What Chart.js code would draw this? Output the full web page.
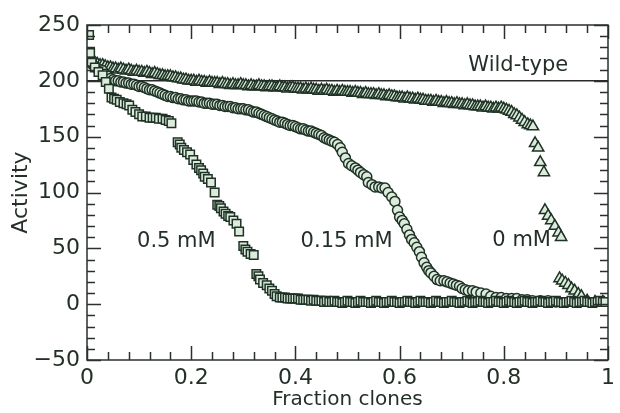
<!DOCTYPE html>
<html>
<head>
<meta charset="utf-8">
<script src="https://cdn.jsdelivr.net/npm/chart.js@4.4.0/dist/chart.umd.min.js"></script>
<style>
  body { margin: 0; background: #fff; }
  #wrap { width: 620px; height: 413px; }
</style>
</head>
<body>
<div id="wrap"><canvas id="myChart"></canvas></div>
<script>
// 0.5 mM (squares)
var sqX = [0.004, 0.006, 0.009, 0.015, 0.022, 0.03, 0.036, 0.042, 0.047, 0.052, 0.057, 0.063, 0.07, 0.076, 0.081, 0.087, 0.093, 0.1, 0.106, 0.113, 0.12, 0.126, 0.132, 0.138, 0.145, 0.151, 0.157, 0.162,
  0.174, 0.178, 0.181, 0.186, 0.192, 0.198, 0.204, 0.21, 0.215, 0.219, 0.223, 0.226, 0.232, 0.238, 0.245, 0.25, 0.254, 0.257, 0.262, 0.266, 0.271, 0.275, 0.281, 0.287, 0.292,
  0.3, 0.304, 0.308, 0.314, 0.32, 0.325, 0.329, 0.332, 0.338, 0.345, 0.35, 0.355, 0.36, 0.364,
  0.37, 0.375, 0.38, 0.385, 0.39, 0.395, 0.40, 0.405, 0.41, 0.415,
  0.42, 0.425, 0.43, 0.435, 0.44, 0.445, 0.45, 0.455, 0.46, 0.465,
  0.47, 0.475, 0.48, 0.485, 0.49, 0.495, 0.50, 0.505, 0.51, 0.515,
  0.52, 0.525, 0.53, 0.535, 0.54, 0.545, 0.55, 0.555, 0.56, 0.565,
  0.57, 0.575, 0.58, 0.585, 0.59, 0.595, 0.60, 0.605, 0.61, 0.615,
  0.62, 0.625, 0.63, 0.635, 0.64, 0.645, 0.65, 0.655, 0.66, 0.665,
  0.67, 0.675, 0.68, 0.685, 0.69, 0.695, 0.70, 0.705, 0.71, 0.715,
  0.72, 0.725, 0.73, 0.735, 0.74, 0.745, 0.75, 0.755, 0.76, 0.765,
  0.77, 0.775, 0.78, 0.785, 0.79, 0.795, 0.80, 0.805, 0.81, 0.815,
  0.82, 0.825, 0.83, 0.835, 0.84, 0.845, 0.85, 0.855, 0.86, 0.865,
  0.87, 0.875, 0.88, 0.885, 0.89, 0.895, 0.90, 0.905, 0.91, 0.915,
  0.92, 0.925, 0.93, 0.935, 0.94, 0.945, 0.95, 0.955, 0.96, 0.965,
  0.97, 0.975, 0.98, 0.985, 0.99, 0.995, 1.0]
var sqY = [241, 225, 217, 212, 208, 205, 199, 193, 185, 184, 183, 181, 180, 179, 178, 174, 172, 170, 168, 168, 167, 167, 167, 166, 166, 165, 164, 162,
  145, 143, 140, 138, 136, 134, 129, 125, 122, 120, 117, 114, 112, 109, 100, 89, 88, 86, 83, 81, 79, 78, 75, 72, 65,
  52, 49, 47, 45, 44, 27, 25, 22, 19, 17, 14, 12, 9, 7,
  6, 6, 6, 5, 5, 5, 5, 5, 4, 4,
  4, 4, 3, 4, 3, 3, 3, 2, 3, 2,
  2, 3, 2, 2, 1, 2, 3, 2, 2, 1,
  2, 3, 2, 2, 2, 1, 2, 3, 2, 2,
  1, 2, 2, 3, 2, 2, 1, 2, 2, 3,
  2, 2, 1, 2, 3, 2, 2, 2, 1, 2,
  3, 2, 2, 1, 2, 2, 3, 2, 2, 1,
  2, 2, 3, 2, 1, 2, 2, 3, 2, 2,
  1, 2, 2, 3, 2, 2, 1, 2, 3, 2,
  2, 1, 2, 2, 3, 2, 2, 1, 2, 2,
  3, 2, 2, 1, 2, 2, 3, 2, 2, 1,
  2, 2, 3, 2, 1, 2, 2, 3, 2, 2,
  1, 2, 2, 3, 2, 2]

// 0.15 mM (circles)
var circX = [0.005, 0.01, 0.015, 0.02, 0.025, 0.03, 0.035, 0.04, 0.045, 0.05,
  0.055, 0.06, 0.065, 0.07, 0.075, 0.08, 0.085, 0.09, 0.095, 0.10,
  0.105, 0.11, 0.115, 0.12, 0.125, 0.13, 0.135, 0.14, 0.145, 0.15,
  0.155, 0.16, 0.165, 0.17, 0.175, 0.18, 0.185, 0.19, 0.195, 0.20,
  0.205, 0.21, 0.215, 0.22, 0.225, 0.23, 0.235, 0.24, 0.245, 0.25,
  0.255, 0.26, 0.265, 0.27, 0.275, 0.28, 0.285, 0.29, 0.295, 0.30,
  0.305, 0.31, 0.315, 0.32, 0.325, 0.33, 0.335, 0.34, 0.345, 0.35,
  0.355, 0.36, 0.365, 0.37, 0.375, 0.38, 0.385, 0.39, 0.395, 0.40,
  0.405, 0.41, 0.415, 0.42, 0.425, 0.43, 0.435, 0.44, 0.445, 0.45,
  0.455, 0.46, 0.465, 0.47, 0.475,
  0.481, 0.486, 0.49, 0.496, 0.502, 0.508, 0.515, 0.52, 0.525,
  0.531, 0.537, 0.54, 0.547, 0.553, 0.56, 0.566, 0.572, 0.578, 0.585, 0.591, 0.596, 0.6, 0.605, 0.609, 0.614, 0.619, 0.623, 0.628, 0.633, 0.638, 0.642, 0.647, 0.652,
  0.656, 0.66, 0.666, 0.672, 0.678, 0.685, 0.691, 0.697, 0.703, 0.709, 0.715, 0.72, 0.726, 0.732, 0.74, 0.747, 0.756, 0.766, 0.775, 0.785, 0.795, 0.805, 0.815, 0.825,
  0.835, 0.845, 0.855, 0.87, 0.885, 0.9]
var circY = [217, 215, 213, 211, 210, 209, 206, 204, 202, 201,
  200, 200, 199, 199, 198, 198, 197, 197, 196, 195,
  195, 194, 193, 192, 192, 191, 190, 189, 188, 187,
  186, 186, 185, 185, 184, 184, 183, 183, 182, 182,
  182, 182, 181, 181, 180, 180, 180, 179, 179, 179,
  178, 178, 177, 177, 177, 176, 176, 175, 175, 175,
  174, 174, 173, 172, 172, 171, 170, 169, 168, 167,
  166, 165, 164, 163, 163, 162, 161, 160, 160, 159,
  158, 157, 157, 156, 155, 155, 154, 153, 152, 151,
  149, 148, 147, 146, 145,
  143, 140, 136, 131, 126, 124, 122, 120, 118,
  116, 114, 109, 107, 105, 105, 104, 104, 100, 96, 92, 84, 78, 75, 72, 67, 62, 58, 55, 51, 47, 42, 37, 33,
  30, 28, 25, 22, 21, 21, 20, 19, 18, 17, 16, 14, 13, 12, 12, 11, 10, 9, 7, 6, 6, 5, 5, 5,
  4, 4, 3, 3, 3, 2]

// 0 mM (triangles)
var triX = [0.005, 0.01, 0.015, 0.02, 0.025, 0.03, 0.035, 0.04, 0.045, 0.05,
  0.055, 0.06, 0.065, 0.07, 0.075, 0.08, 0.085, 0.09, 0.095, 0.10,
  0.105, 0.11, 0.115, 0.12, 0.125, 0.13, 0.135, 0.14, 0.145, 0.15,
  0.155, 0.16, 0.165, 0.17, 0.175, 0.18, 0.185, 0.19, 0.195, 0.20,
  0.205, 0.21, 0.215, 0.22, 0.225, 0.23, 0.235, 0.24, 0.245, 0.25,
  0.255, 0.26, 0.265, 0.27, 0.275, 0.28, 0.285, 0.29, 0.295, 0.30,
  0.305, 0.31, 0.315, 0.32, 0.325, 0.33, 0.335, 0.34, 0.345, 0.35,
  0.355, 0.36, 0.365, 0.37, 0.375, 0.38, 0.385, 0.39, 0.395, 0.40,
  0.405, 0.41, 0.415, 0.42, 0.425, 0.43, 0.435, 0.44, 0.445, 0.45,
  0.455, 0.46, 0.465, 0.47, 0.475, 0.48, 0.485, 0.49, 0.495, 0.50,
  0.505, 0.51, 0.515, 0.52, 0.525, 0.53, 0.535, 0.54, 0.545, 0.55,
  0.555, 0.56, 0.565, 0.57, 0.575, 0.58, 0.585, 0.59, 0.595, 0.60,
  0.605, 0.61, 0.615, 0.62, 0.625, 0.63, 0.635, 0.64, 0.645, 0.65,
  0.655, 0.66, 0.665, 0.67, 0.675, 0.68, 0.685, 0.69, 0.695, 0.70,
  0.705, 0.71, 0.715, 0.72, 0.725, 0.73, 0.735, 0.74, 0.745, 0.75,
  0.755, 0.76, 0.765, 0.77, 0.775, 0.78, 0.785, 0.79, 0.795, 0.80,
  0.805, 0.81, 0.815, 0.82, 0.825, 0.83, 0.835,
  0.84, 0.846, 0.851, 0.856, 0.86, 0.866, 0.87, 0.877,
  0.879, 0.885, 0.891, 0.898, 0.905, 0.91, 0.907, 0.912, 0.918, 0.924, 0.93, 0.936, 0.943, 0.949, 0.96, 0.975, 0.99]
var triY = [220, 217, 216, 215, 214, 214, 213, 212, 212, 211,
  211, 210, 211, 210, 209, 210, 209, 208, 209, 208,
  208, 207, 208, 207, 206, 207, 206, 205, 205, 204,
  204, 204, 203, 203, 202, 202, 201, 201, 200, 200,
  200, 199, 200, 199, 199, 198, 199, 198, 198, 198,
  197, 198, 197, 197, 196, 197, 196, 196, 197, 196,
  196, 195, 196, 195, 195, 196, 195, 195, 194, 195,
  195, 194, 194, 195, 194, 194, 193, 194, 194, 193,
  193, 193, 192, 193, 192, 193, 192, 192, 191, 192,
  191, 192, 191, 191, 190, 191, 190, 191, 190, 190,
  190, 189, 190, 189, 189, 188, 189, 188, 188, 188,
  187, 188, 187, 187, 186, 187, 186, 186, 185, 185,
  185, 184, 185, 184, 184, 183, 184, 183, 183, 182,
  182, 182, 181, 182, 181, 181, 180, 181, 180, 180,
  179, 180, 179, 179, 178, 179, 178, 178, 177, 177,
  177, 176, 177, 176, 176, 175, 176, 175, 176, 175,
  174, 173, 172, 170, 169, 167, 165,
  163, 161, 160, 159, 144, 140, 127, 118,
  84, 79, 75, 70, 64, 60, 23, 21, 19, 17, 14, 12, 9, 7, 3, 2, 2]

var wildTypeX = [0, 1]
var wildTypeY = [200, 200]

var labelText = ['Wild-type', '0.5 mM', '0.15 mM', '0 mM']
var labelX = [0.732, 0.096, 0.41, 0.778]
var labelY = [209, 51, 51, 52]

var xTickValues = [0, 0.2, 0.4, 0.6, 0.8, 1]
var yTickValues = [-50, 0, 50, 100, 150, 200, 250]

var ink = '#243027'
var markEdge = '#1e3325'
var markFill = '#dcebdc'

function pts(xs, ys) {
  return xs.map(function (x, i) { return { x: x, y: ys[i] } })
}

Chart.defaults.font.family = 'DejaVu Sans'
Chart.defaults.color = ink

// inward ticks on all four sides + frame + text labels
var framePlugin = {
  id: 'frame',
  afterDraw: function (chart) {
    var ctx = chart.ctx
    var a = chart.chartArea
    var xs = chart.scales.x, ys = chart.scales.y
    ctx.save()
    ctx.strokeStyle = '#2a302b'
    ctx.lineWidth = 1.5
    ctx.strokeRect(a.left, a.top, a.right - a.left, a.bottom - a.top)
    ctx.beginPath()
    for (var v = 0; v <= 1.0001; v += 0.04) {
      var major = xTickValues.some(function (t) { return Math.abs(t - v) < 1e-6 })
      var len = major ? 14 : 8
      var px = Math.round(xs.getPixelForValue(v)) + 0.5
      ctx.moveTo(px, a.bottom); ctx.lineTo(px, a.bottom - len)
      ctx.moveTo(px, a.top); ctx.lineTo(px, a.top + len)
    }
    for (var w = -50; w <= 250; w += 10) {
      var majorY = yTickValues.indexOf(w) >= 0
      var lenY = majorY ? 14 : 8
      var py = Math.round(ys.getPixelForValue(w)) + 0.5
      ctx.moveTo(a.left, py); ctx.lineTo(a.left + lenY, py)
      ctx.moveTo(a.right, py); ctx.lineTo(a.right - lenY, py)
    }
    ctx.stroke()
    ctx.fillStyle = ink
    ctx.font = '21px "DejaVu Sans"'
    ctx.textAlign = 'left'
    ctx.textBaseline = 'alphabetic'
    for (var i = 0; i < labelText.length; i++) {
      ctx.fillText(labelText[i], xs.getPixelForValue(labelX[i]), ys.getPixelForValue(labelY[i]))
    }
    ctx.restore()
  }
}

var chart = new Chart('myChart', {
  type: 'scatter',
  data: {
    datasets: [
      { label: '0.5 mM', data: pts(sqX, sqY), pointStyle: 'rect', pointRadius: 6, borderWidth: 1.5, borderColor: markEdge, backgroundColor: markFill },
      { label: '0.15 mM', data: pts(circX, circY), pointStyle: 'circle', pointRadius: 5, borderWidth: 1.5, borderColor: markEdge, backgroundColor: markFill },
      { label: '0 mM', data: pts(triX, triY), pointStyle: 'triangle', pointRadius: 6.5, borderWidth: 1.5, borderColor: markEdge, backgroundColor: markFill },
      { label: 'Wild-type', type: 'line', data: pts(wildTypeX, wildTypeY), showLine: true, pointRadius: 0, borderWidth: 1.5, borderColor: '#2a2a2a', fill: false }
    ]
  },
  options: {
    responsive: true,
    maintainAspectRatio: false,
    animation: false,
    layout: { padding: { top: 25, right: 3, left: 0, bottom: 0 } },
    plugins: { legend: { display: false }, tooltip: { enabled: false } },
    scales: {
      x: {
        type: 'linear', min: 0, max: 1,
        afterFit: function (s) { s.height = 53 },
        afterBuildTicks: function (s) { s.ticks = xTickValues.map(function (v) { return { value: v } }) },
        grid: { display: false, drawTicks: false },
        border: { display: false },
        ticks: {
          padding: 5, font: { size: 22 }, color: ink, maxRotation: 0,
          callback: function (v) { return (v === 0 || v === 1) ? String(v) : v.toFixed(1) }
        },
        title: { display: true, text: 'Fraction clones', font: { size: 20 }, color: ink, padding: { top: 0, bottom: 1 } }
      },
      y: {
        type: 'linear', min: -50, max: 250,
        afterFit: function (s) { s.width = 87 },
        afterBuildTicks: function (s) { s.ticks = yTickValues.map(function (v) { return { value: v } }) },
        grid: { display: false, drawTicks: false },
        border: { display: false },
        ticks: {
          padding: 7, font: { size: 22 }, color: ink,
          callback: function (v) { return v < 0 ? '\u2212' + Math.abs(v) : String(v) }
        },
        title: { display: true, text: 'Activity', font: { size: 22 }, color: ink, padding: { top: 8, bottom: 0 } }
      }
    }
  },
  plugins: [framePlugin]
})
</script>
</body>
</html>
